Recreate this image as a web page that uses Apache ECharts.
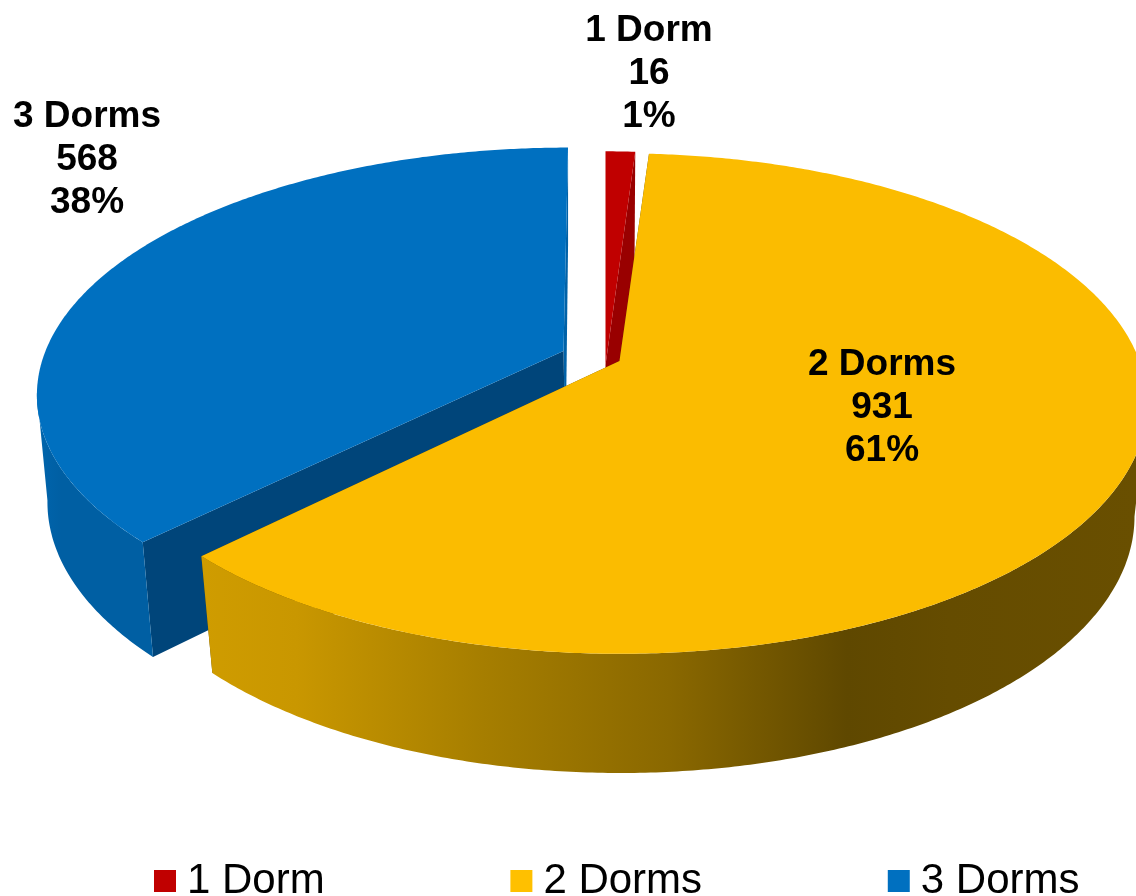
<!DOCTYPE html>
<html>
<head>
<meta charset="utf-8">
<style>html,body{margin:0;padding:0;background:#fff;overflow:hidden}#c{width:1136px;height:896px}</style>
<script src="https://cdn.jsdelivr.net/npm/echarts@6/dist/echarts.min.js"></script>
</head>
<body>
<div id="c"></div>
<script>
const categories = ['1 Dorm', '2 Dorms', '3 Dorms'];
const dwellings = [16, 931, 568];
const percentLabels = ['1%', '61%', '38%'];
const topColors = ['#c00000', '#fbbc00', '#0070c0'];
const legendColors = ['#c00000', '#ffc000', '#0070c0'];

const total = dwellings.reduce((a, b) => a + b, 0);
const persp = 0.17;
const silhouette = Math.acos(-persp) * 180 / Math.PI; // where a disc's outline turns away from the viewer
// Projection of every slice's disc: top-face and bottom-face centres and radii
const views = [
  { cx: 605.5, cy: 365, rx: 525, ry: 250, sk: 0, bx: 605.5, by: 475, brx: 512, bry: 249, bsk: 0,
    cutStart: '#990000', cutEnd: '#990000', wall: [[0, '#990000'], [1, '#990000']], label: [649, 74] },
  { cx: 619.5, cy: 361, rx: 520, ry: 243, sk: 0, bx: 620, by: 473, brx: 507, bry: 249, bsk: 0,
    cutStart: '#614a00', cutEnd: '#614a00',
    wall: [[0, '#cf9c00'], [0.1, '#c99700'], [0.3, '#a67e00'], [0.5, '#8a6800'], [0.69, '#5f4800'], [0.8, '#654c00'], [1, '#694f00']], label: [882, 408] },
  { cx: 563.5, cy: 351, rx: 518, ry: 238, sk: -5.3, bx: 565.5, by: 457, brx: 510, bry: 249, bsk: -3,
    cutStart: '#00457a', cutEnd: '#0062a8',
    wall: [[0, '#0066ad'], [0.1, '#0062a8'], [0.2, '#005fa3'], [1, '#005fa3']], label: [87, 160] }
];

function project(cx, cy, rx, ry, sk, deg) {
  const t = deg * Math.PI / 180, u = Math.sin(t), v = -Math.cos(t), w = 1 - persp * v;
  return [cx + (rx * u + sk * v) / w, cy + ry * v / w];
}
function rim(cx, cy, rx, ry, sk, a0, a1) {
  const out = [], n = Math.max(2, Math.ceil(Math.abs(a1 - a0) * 2));
  for (let i = 0; i <= n; i++) out.push(project(cx, cy, rx, ry, sk, a0 + (a1 - a0) * i / n));
  return out;
}

function sliceRenderer(idx) {
  return function (params, api) {
    const val = api.value(0);
    let start = 0;
    for (let i = 0; i < idx; i++) start += dwellings[i] / total * 360;
    const end = start + val / total * 360;
    const p = views[idx];
    const kids = [];
    const cutFace = (a, fill) => ({
      type: 'polygon',
      shape: { points: [[p.cx, p.cy], project(p.cx, p.cy, p.rx, p.ry, p.sk, a), project(p.bx, p.by, p.brx, p.bry, p.bsk, a), [p.bx, p.by]] },
      style: { fill: fill }
    });
    kids.push(cutFace(end, p.cutEnd));
    kids.push(cutFace(start, p.cutStart));
    const a0 = Math.max(start, silhouette), a1 = Math.min(end, 360 - silhouette);
    if (a1 > a0) {
      kids.push({
        type: 'polygon',
        shape: { points: rim(p.cx, p.cy, p.rx, p.ry, p.sk, a0, a1).concat(rim(p.bx, p.by, p.brx, p.bry, p.bsk, a1, a0)) },
        style: {
          fill: {
            type: 'linear', global: true, x: idx === 1 ? 203 : 37, y: 0, x2: idx === 1 ? 1136 : 160, y2: 0,
            colorStops: p.wall.map(s => ({ offset: s[0], color: s[1] }))
          }
        }
      });
    }
    kids.push({
      type: 'polygon',
      shape: { points: [[p.cx, p.cy]].concat(rim(p.cx, p.cy, p.rx, p.ry, p.sk, start, end)) },
      style: { fill: topColors[idx] }
    });
    kids.push({
      type: 'text', z2: 50,
      style: {
        text: categories[idx] + '\n' + val + '\n' + percentLabels[idx],
        x: p.label[0], y: p.label[1], align: 'center', verticalAlign: 'middle',
        font: 'bold 37px "Liberation Sans", Arial, sans-serif', lineHeight: 43, fill: '#000'
      }
    });
    return { type: 'group', children: kids };
  };
}

const chart = echarts.init(document.getElementById('c'), null, { renderer: 'canvas' });
chart.setOption({
  animation: false,
  backgroundColor: '#fff',
  legend: {
    data: categories, left: 154, top: 860, itemGap: 185.7, itemWidth: 22, itemHeight: 22, icon: 'rect',
    padding: 0, selectedMode: false,
    textStyle: { fontFamily: '"Liberation Sans", Arial, sans-serif', fontSize: 42, color: '#000', padding: [0, 0, 0, 6] }
  },
  series: [2, 0, 1].map(i => ({
    type: 'custom', name: categories[i], coordinateSystem: 'none', silent: true,
    itemStyle: { color: legendColors[i] }, clip: false,
    renderItem: sliceRenderer(i), data: [[dwellings[i]]]
  }))
});
</script>
</body>
</html>
